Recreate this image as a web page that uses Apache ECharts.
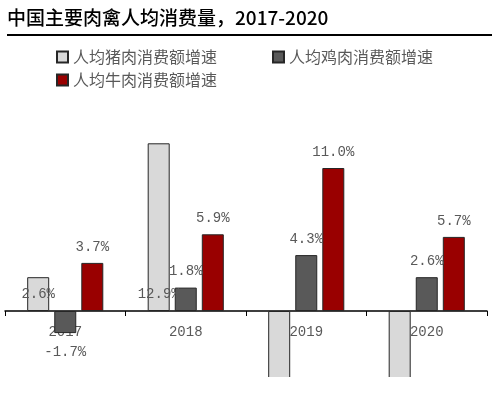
<!DOCTYPE html>
<html>
<head>
<meta charset="utf-8">
<script src="https://cdn.jsdelivr.net/npm/echarts@6/dist/echarts.min.js"></script>
<style>
  html, body { margin: 0; padding: 0; background: #fff; }
  #main { width: 500px; height: 396px; }
</style>
</head>
<body>
<div id="main"></div>
<script>
const years = ['2017', '2018', '2019', '2020']
const porkGrowth = [2.6, 12.9, -11.0, -10.3]
const chickenGrowth = [-1.7, 1.8, 4.3, 2.6]
const beefGrowth = [3.7, 5.9, 11.0, 5.7]
const seriesNames = ['人均猪肉消费额增速', '人均鸡肉消费额增速', '人均牛肉消费额增速']

const numFont = 'Liberation Mono'
const labelColor = '#595959'

// y轴范围（负值部分被裁掉）
const yMin = -5
const yMax = 15
const gridTop = 116
const gridHeight = 260

function pct(p) {
  return p.value.toFixed(1) + '%'
}

// 猪肉标签放在柱子底部，负值不显示
function porkData() {
  return porkGrowth.map(v => ({
    value: v,
    label: { show: v >= 0, position: 'insideBottom', distance: 10 }
  }))
}

// 负值标签放到柱子下方
function aboveOrBelow(arr) {
  return arr.map(v => ({
    value: v,
    label: v >= 0 ? { position: 'top' } : { position: 'bottom', distance: 12 }
  }))
}

const chart = echarts.init(document.getElementById('main'))

const labelBase = {
  show: true,
  formatter: pct,
  color: labelColor,
  fontFamily: numFont,
  fontSize: 14,
  distance: 9
}

const legendText = { fontFamily: 'Noto Sans CJK SC', fontSize: 16, color: labelColor }

// x轴放在0刻度处：从底部向上平移
const zeroOffset = -gridHeight * (0 - yMin) / (yMax - yMin)

chart.setOption({
  animation: false,
  title: {
    text: '中国主要肉禽人均消费量，2017-2020',
    left: 7,
    top: 8,
    padding: 0,
    textStyle: {
      fontFamily: 'Noto Sans CJK SC',
      fontSize: 19,
      fontWeight: 500,
      color: '#000'
    }
  },
  graphic: [
    {
      type: 'line',
      shape: { x1: 7, y1: 35, x2: 492, y2: 35 },
      style: { stroke: '#000', lineWidth: 2 }
    },
    // 底部白色遮挡，柱子超出部分不显示下边框
    {
      type: 'rect',
      z: 100,
      shape: { x: 0, y: gridTop + gridHeight + 1, width: 500, height: 40 },
      style: { fill: '#fff' }
    }
  ],
  legend: [
    {
      data: [seriesNames[0], seriesNames[1]],
      icon: 'rect',
      left: 56,
      top: 49,
      padding: 0,
      itemWidth: 11,
      itemHeight: 11,
      itemGap: 55,
      textStyle: legendText
    },
    {
      data: [seriesNames[2]],
      icon: 'rect',
      left: 56,
      top: 72,
      padding: 0,
      itemWidth: 11,
      itemHeight: 11,
      textStyle: legendText
    }
  ],
  grid: {
    left: 5,
    right: 13,
    top: gridTop,
    height: gridHeight,
    containLabel: false,
    outerBoundsMode: 'none'
  },
  xAxis: {
    type: 'category',
    data: years,
    position: 'bottom',
    offset: zeroOffset,
    axisLine: { onZero: false, lineStyle: { color: '#000', width: 1.5 } },
    axisTick: { show: true, inside: false, length: 5, lineStyle: { color: '#000' } },
    axisLabel: { color: labelColor, fontFamily: numFont, fontSize: 14, margin: 14 }
  },
  yAxis: {
    type: 'value',
    min: yMin,
    max: yMax,
    show: false,
    splitLine: { show: false }
  },
  series: [
    {
      name: seriesNames[0],
      type: 'bar',
      barWidth: 22,
      barGap: '23%',
      clip: false,
      data: porkData(),
      itemStyle: { color: '#D9D9D9', borderColor: '#262626', borderWidth: 1 },
      label: labelBase
    },
    {
      name: seriesNames[1],
      type: 'bar',
      barWidth: 22,
      barGap: '23%',
      data: aboveOrBelow(chickenGrowth),
      itemStyle: { color: '#595959', borderColor: '#262626', borderWidth: 1 },
      label: labelBase
    },
    {
      name: seriesNames[2],
      type: 'bar',
      barWidth: 22,
      barGap: '23%',
      data: aboveOrBelow(beefGrowth),
      itemStyle: { color: '#990000', borderColor: '#262626', borderWidth: 1 },
      label: labelBase
    }
  ]
})
</script>
</body>
</html>
